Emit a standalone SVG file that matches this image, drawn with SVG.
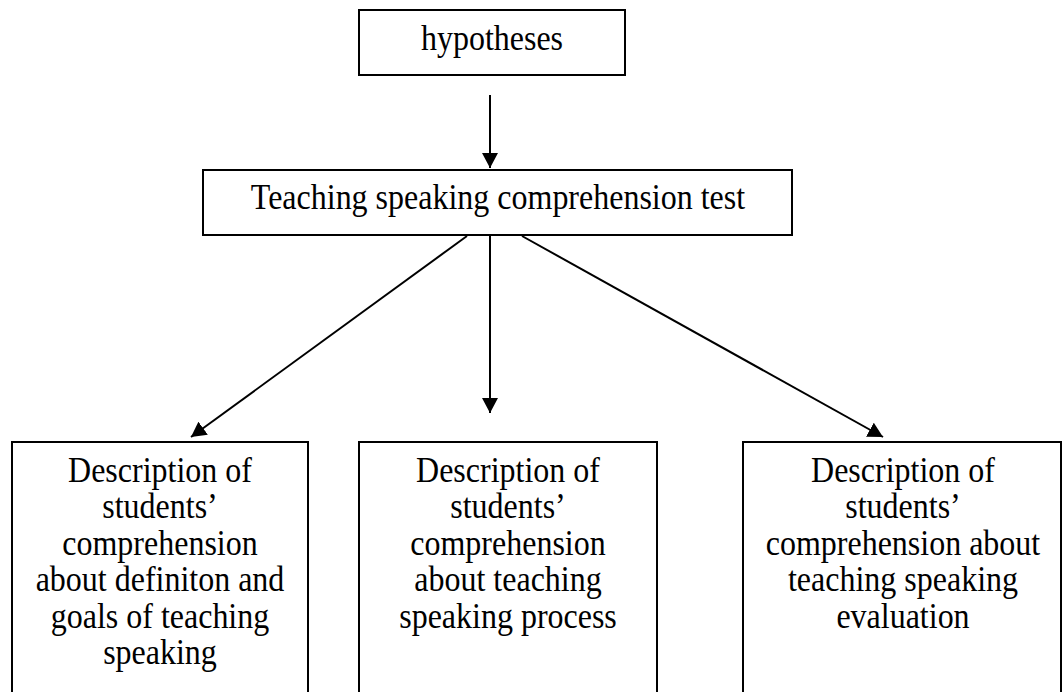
<svg xmlns="http://www.w3.org/2000/svg" width="1062" height="692" viewBox="0 0 1062 692">
<defs>
<style>
.box{fill:#fff;stroke:#000;stroke-width:2}
.t{font-family:"Liberation Serif","Times New Roman",serif;font-size:32px;fill:#000;text-anchor:middle}
.c{stroke:#000;stroke-width:2;fill:none}
</style>
<marker id="ah" markerWidth="16" markerHeight="16" viewBox="0 0 16 16" refX="15" refY="8" orient="auto" markerUnits="userSpaceOnUse">
<path d="M0,0 L15,8 L0,16 Z" fill="#000"/>
</marker>
</defs>
<rect width="1062" height="692" fill="#fff"/>
<g id="n-hyp">
<rect class="box" x="359" y="10" width="266" height="65"/>
<text class="t" transform="translate(492,50) scale(1,1.15)">hypotheses</text>
</g>
<g id="n-test">
<rect class="box" x="203" y="170" width="589" height="65"/>
<text class="t" transform="translate(498,209) scale(1,1.15)">Teaching speaking comprehension test</text>
</g>
<g id="n-left">
<rect class="box" x="12" y="442" width="296" height="270"/>
<text class="t" transform="translate(160,482) scale(1,1.15)"><tspan x="0" y="0">Description of</tspan><tspan x="0" dy="31.7">students’</tspan><tspan x="0" dy="31.7">comprehension</tspan><tspan x="0" dy="31.7">about definiton and</tspan><tspan x="0" dy="31.7">goals of teaching</tspan><tspan x="0" dy="31.7">speaking</tspan></text>
</g>
<g id="n-mid">
<rect class="box" x="359" y="442" width="298" height="270"/>
<text class="t" transform="translate(508,482) scale(1,1.15)"><tspan x="0" y="0">Description of</tspan><tspan x="0" dy="31.7">students’</tspan><tspan x="0" dy="31.7">comprehension</tspan><tspan x="0" dy="31.7">about teaching</tspan><tspan x="0" dy="31.7">speaking process</tspan></text>
</g>
<g id="n-right">
<rect class="box" x="743" y="442" width="318" height="270"/>
<text class="t" transform="translate(903,482) scale(1,1.15)"><tspan x="0" y="0">Description of</tspan><tspan x="0" dy="31.7">students’</tspan><tspan x="0" dy="31.7">comprehension about</tspan><tspan x="0" dy="31.7">teaching speaking</tspan><tspan x="0" dy="31.7">evaluation</tspan></text>
</g>
<g id="connectors">
<line class="c" x1="490" y1="95" x2="490" y2="168" marker-end="url(#ah)"/>
<line class="c" x1="467" y1="236" x2="191" y2="437" marker-end="url(#ah)"/>
<line class="c" x1="490" y1="236" x2="490" y2="413" marker-end="url(#ah)"/>
<line class="c" x1="522" y1="236" x2="883" y2="437" marker-end="url(#ah)"/>
</g>
</svg>
